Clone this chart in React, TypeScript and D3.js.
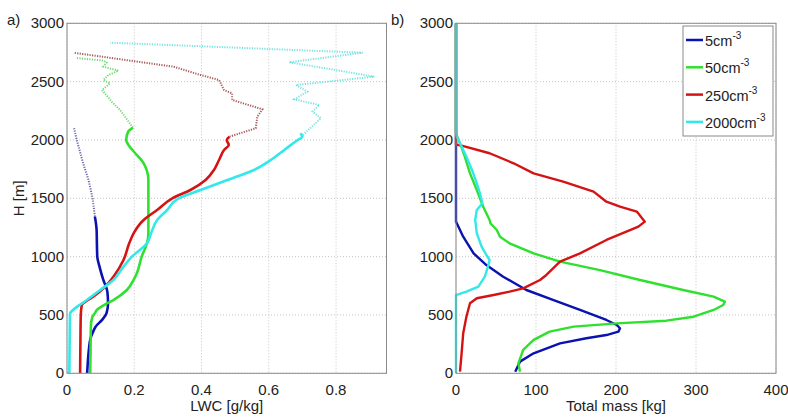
import React from "react";
import * as d3 from "d3";

// ---------- DATA ([height m, value]) ----------
const seriesNames = ["5cm", "50cm", "250cm", "2000cm"];
const seriesColors = ["#0a12b0", "#2fe02f", "#d41414", "#33e8e8"];

// Panel a) LWC [g/kg] – solid part
const lwcBlue: [number, number][] = [[0,0.06],[100,0.062],[200,0.065],[300,0.07],[345,0.076],[400,0.085],[460,0.105],[520,0.118],[600,0.122],[700,0.12],[800,0.108],[900,0.098],[1000,0.09],[1100,0.089],[1230,0.088],[1343,0.083]];
const lwcGreen: [number, number][] = [[0,0.069],[200,0.07],[400,0.071],[480,0.075],[516,0.083],[543,0.089],[585,0.11],[628,0.138],[714,0.178],[800,0.198],[860,0.208],[1000,0.222],[1117,0.238],[1200,0.242],[1500,0.242],[1657,0.242],[1800,0.228],[1886,0.203],[1960,0.182],[2000,0.176],[2071,0.182],[2106,0.196]];
const lwcRed: [number, number][] = [[0,0.039],[300,0.04],[500,0.041],[585,0.044],[620,0.058],[657,0.078],[742,0.113],[828,0.138],[971,0.168],[1114,0.185],[1200,0.198],[1314,0.228],[1400,0.268],[1500,0.313],[1571,0.367],[1657,0.412],[1743,0.437],[1828,0.452],[1914,0.467],[1957,0.481],[2000,0.475],[2028,0.483]];
const lwcCyan: [number, number][] = [[0,0.007],[300,0.008],[510,0.009],[557,0.024],[628,0.059],[714,0.099],[800,0.138],[914,0.168],[1000,0.193],[1114,0.238],[1200,0.25],[1314,0.268],[1400,0.298],[1500,0.332],[1571,0.397],[1657,0.477],[1743,0.556],[1828,0.606],[1914,0.646],[2000,0.686],[2028,0.7],[2057,0.694]];
// Panel a) LWC – dotted (upper) part
const lwcBlueTop: [number, number][] = [[1343,0.083],[1503,0.076],[1657,0.064],[1800,0.048],[2000,0.029],[2100,0.021]];
const lwcGreenTop: [number, number][] = [[2106,0.196],[2257,0.158],[2328,0.133],[2428,0.104],[2485,0.128],[2514,0.108],[2557,0.123],[2594,0.153],[2628,0.108],[2663,0.118],[2680,0.108],[2703,0.027]];
const lwcRedTop: [number, number][] = [[2028,0.483],[2100,0.561],[2200,0.566],[2263,0.581],[2343,0.491],[2400,0.491],[2428,0.467],[2514,0.452],[2557,0.397],[2628,0.317],[2748,0.019]];
const lwcCyanTop: [number, number][] = [[2028,0.696],[2186,0.755],[2243,0.73],[2300,0.75],[2348,0.676],[2414,0.715],[2471,0.681],[2543,0.914],[2666,0.661],[2748,0.879],[2834,0.128]];

// Panel b) Total mass [kg]
const massBlue: [number, number][] = [[14,74],[100,80],[171,97],[257,130],[300,163],[328,188],[357,203],[386,205],[414,201],[457,188],[543,155],[628,122],[714,88],[828,59],[928,38],[1028,22],[1171,9],[1286,1],[1300,0],[3000,0]];
const massGreen: [number, number][] = [[14,80],[86,78],[200,84],[286,97],[357,117],[400,147],[428,201],[451,263],[485,297],[543,322],[585,334],[614,336],[657,322],[714,284],[800,230],[885,180],[957,130],[1028,97],[1114,67],[1171,55],[1228,51],[1286,43],[1314,42],[1428,34],[1571,26],[1714,17.5],[1857,11],[1971,5],[2057,0],[3000,0]];
const massRed: [number, number][] = [[14,5],[171,7],[343,9],[485,13],[600,17.5],[643,26],[671,47],[700,67],[728,84],[800,105],[843,113],[957,130],[1028,155],[1143,188],[1214,213],[1257,228],[1300,236],[1386,226],[1428,205],[1471,188],[1557,172],[1643,134],[1714,97],[1800,72],[1886,42],[1951,7],[1960,0],[3000,0]];
const massCyan: [number, number][] = [[0,0],[671,0],[700,13],[743,28],[828,36],[914,40],[971,42],[1014,38],[1086,32],[1200,26],[1314,24],[1400,26],[1457,33],[1543,30],[1628,26],[1743,20],[1857,13],[1943,7],[2028,1],[2060,0],[3000,0]];

const hTicks = [0, 500, 1000, 1500, 2000, 2500, 3000];
const lwcTicks = [0, 0.2, 0.4, 0.6, 0.8];
const massTicks = [0, 100, 200, 300, 400];

// ---------- LAYOUT ----------
const W = 788, H = 418;
const top = 23.3, bottom = 373.3;
const aL = 67, aR = 386.5;
const bL = 456, bR = 776;
const font = "'Liberation Sans', Arial, sans-serif";
const fs = 15;

const y = d3.scaleLinear().domain([0, 3000]).range([bottom, top]);
const xa = d3.scaleLinear().domain([0, 0.95]).range([aL, aR]);
const xb = d3.scaleLinear().domain([0, 400]).range([bL, bR]);

function Panel({ x, ticks, fmt, label, letter, letterX }: any) {
  const [l, r] = x.range();
  return (
    <g>
      <rect x={l} y={top} width={r - l} height={bottom - top} fill="white" />
      {ticks.map((t: number) => (
        <line key={"gx" + t} x1={x(t)} x2={x(t)} y1={top} y2={bottom} stroke="#c4c4c4" strokeDasharray="1,2" strokeWidth={1} />
      ))}
      {hTicks.map((t) => (
        <line key={"gy" + t} x1={l} x2={r} y1={y(t)} y2={y(t)} stroke="#c4c4c4" strokeDasharray="1,2" strokeWidth={1} />
      ))}
      {ticks.map((t: number) => (
        <text key={"tx" + t} x={x(t)} y={bottom + 22} textAnchor="middle" fontSize={fs} fontFamily={font} fill="#222">{fmt(t)}</text>
      ))}
      {hTicks.map((t) => (
        <text key={"ty" + t} x={l - 3} y={y(t) + 5} textAnchor="end" fontSize={fs} fontFamily={font} fill="#222">{t}</text>
      ))}
      <text x={(l + r) / 2} y={411} textAnchor="middle" fontSize={fs} fontFamily={font} fill="#222">{label}</text>
      <text x={letterX} y={25} fontSize={fs} fontFamily={font} fill="#222">{letter}</text>
    </g>
  );
}

export default function App() {
  const lineA = (data: [number, number][], curve: any) =>
    d3.line<[number, number]>().x((d) => xa(d[1])).y((d) => y(d[0])).curve(curve)(data) || "";
  const lineB = (data: [number, number][]) =>
    d3.line<[number, number]>().x((d) => xb(d[1])).y((d) => y(d[0])).curve(d3.curveLinear)(data) || "";

  const solidA = [lwcBlue, lwcGreen, lwcRed, lwcCyan];
  const dottedA = [lwcBlueTop, lwcGreenTop, lwcRedTop, lwcCyanTop];
  const massB = [massBlue, massGreen, massRed, massCyan];
  const dottedColors = ["#6a6aa6", "#72d872", "#a85a5a", "#78e2e2"];

  return (
    <svg width={W} height={H} style={{ position: "absolute", left: 0, top: 0, background: "white" }}>
      <Panel x={xa} ticks={lwcTicks} fmt={(t: number) => (t === 0 ? "0" : String(t))} label="LWC [g/kg]" letter="a)" letterX={7} />
      <Panel x={xb} ticks={massTicks} fmt={(t: number) => String(t)} label="Total mass [kg]" letter="b)" letterX={391} />

      <defs>
        <clipPath id="ca"><rect x={aL} y={top} width={aR - aL} height={bottom - top} /></clipPath>
        <clipPath id="cb"><rect x={bL - 2} y={top} width={bR - bL + 2} height={bottom - top} /></clipPath>
      </defs>

      <g clipPath="url(#ca)">
        {dottedA.map((d, i) => (
          <path key={"da" + i} d={lineA(d, d3.curveLinear)} fill="none" stroke={dottedColors[i]} strokeWidth={2} strokeDasharray="1.2,1.3" />
        ))}
        {solidA.map((d, i) => (
          <path key={"sa" + i} d={lineA(d, d3.curveMonotoneY)} fill="none" stroke={seriesColors[i]} strokeWidth={2.6} strokeLinejoin="round" />
        ))}
      </g>

      <g clipPath="url(#cb)">
        {massB.map((d, i) => (
          <path key={"mb" + i} d={lineB(d)} fill="none" stroke={seriesColors[i]} strokeWidth={2.4} strokeLinejoin="round" />
        ))}
      </g>

      {/* axes boxes */}
      <rect x={aL} y={top} width={aR - aL} height={bottom - top} fill="none" stroke="#8a8a8a" strokeWidth={1} />
      <rect x={bL} y={top} width={bR - bL} height={bottom - top} fill="none" stroke="#8a8a8a" strokeWidth={1} />

      {/* y label */}
      <text transform={`translate(24,${(top + bottom) / 2}) rotate(-90)`} textAnchor="middle" fontSize={fs} fontFamily={font} fill="#222">H [m]</text>

      {/* legend */}
      <g>
        <rect x={683} y={26} width={90} height={110} fill="white" stroke="#8a8a8a" strokeWidth={1} />
        {seriesNames.map((n, i) => {
          const ly = 40 + i * 27.3;
          return (
            <g key={"lg" + i}>
              <line x1={686} x2={703} y1={ly} y2={ly} stroke={seriesColors[i]} strokeWidth={2.5} />
              <text x={705} y={ly + 6} fontSize={14.5} fontFamily={font} fill="#222">
                {n}
                <tspan dy={-7} fontSize={10}>-3</tspan>
              </text>
            </g>
          );
        })}
      </g>
    </svg>
  );
}
